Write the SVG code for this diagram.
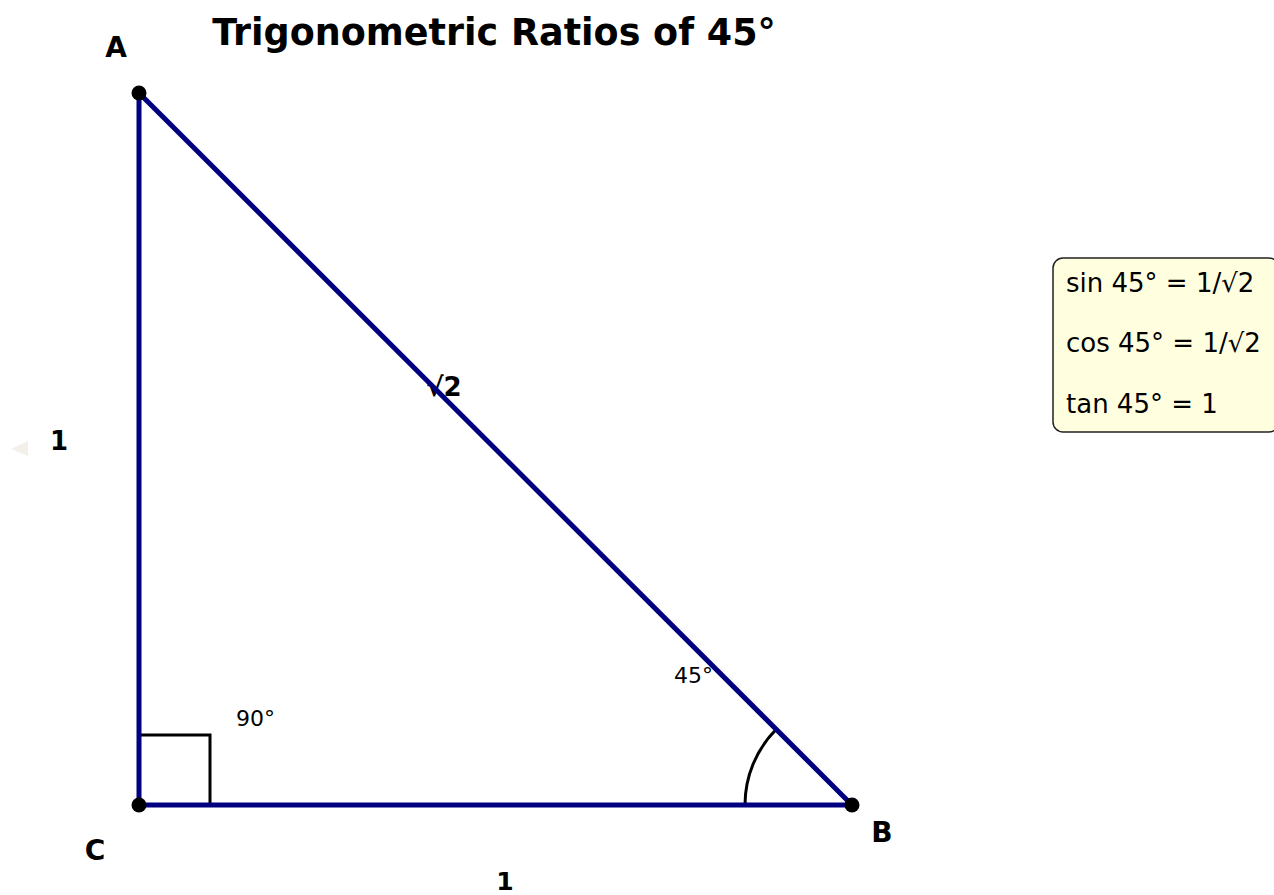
<svg xmlns="http://www.w3.org/2000/svg" width="1274" height="895" viewBox="0 0 1274 895">
<style>
.b{font-family:"DejaVu Sans","Liberation Sans",sans-serif;font-weight:bold;fill:#000}
.n{font-family:"DejaVu Sans","Liberation Sans",sans-serif;fill:#000}
.side{stroke:#000080;stroke-width:5;fill:none;stroke-linecap:round}
.mark{stroke:#000;stroke-width:3;fill:none}
</style>
<rect width="1274" height="895" fill="#fff"/>
<polygon points="11,449 28,441 28,456" fill="#f3f0ea"/>
<text class="b" x="494" y="45" font-size="36.5" text-anchor="middle">Trigonometric Ratios of 45°</text>
<g id="labels">
<text class="b" x="444" y="396" font-size="26" text-anchor="middle">√2</text>
<text class="n" x="674" y="683" font-size="22">45°</text>
<text class="n" x="236" y="726" font-size="22">90°</text>
<text class="b" x="59" y="450" font-size="26" text-anchor="middle">1</text>
<text class="b" x="505" y="890" font-size="25" text-anchor="middle">1</text>
</g>
<g id="angle-marks">
<polyline class="mark" points="139,735 210,735 210,805"/>
<path class="mark" d="M745,805 A107,107 0 0 1 776.3,729.3"/>
</g>
<g id="connectors">
<line class="side" x1="139" y1="93" x2="139" y2="805"/>
<line class="side" x1="139" y1="805" x2="852" y2="805"/>
<line class="side" x1="139" y1="93" x2="852" y2="805"/>
</g>
<g id="node-A"><circle cx="139" cy="93" r="7.5" fill="#000"/><text class="b" x="116" y="57" font-size="28" text-anchor="middle">A</text></g>
<g id="node-C"><circle cx="139" cy="805" r="7.5" fill="#000"/><text class="b" x="95" y="860" font-size="28" text-anchor="middle">C</text></g>
<g id="node-B"><circle cx="852" cy="805" r="7.5" fill="#000"/><text class="b" x="882" y="842" font-size="28" text-anchor="middle">B</text></g>
<g id="ratios">
<rect x="1053" y="258" width="226" height="174" rx="10" fill="#ffffe0" stroke="#222" stroke-width="1.5"/>
<text class="n" x="1066" y="292" font-size="26">sin 45° = 1/√2</text>
<text class="n" x="1066" y="352" font-size="26">cos 45° = 1/√2</text>
<text class="n" x="1066" y="413" font-size="26">tan 45° = 1</text>
</g>
</svg>
